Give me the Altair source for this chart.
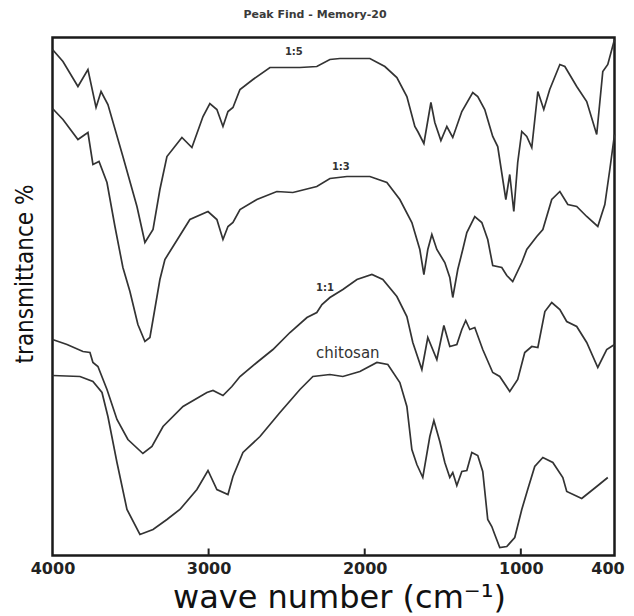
import altair as alt
import pandas as pd

TITLE = "Peak Find - Memory-20"
X_TITLE = "wave number (cm⁻¹)"
Y_TITLE = "transmittance %"
X_TICKS = [4000, 3000, 2000, 1000, 400]
INNER_TICKS = [3000, 2000, 1000]

SERIES = ["1:5", "1:3", "1:1", "chitosan"]

wn_15 = [4000, 3933, 3837, 3773, 3721, 3689, 3645, 3549, 3459, 3408,
         3356, 3312, 3267, 3171, 3107, 3036, 2992, 2947, 2908, 2876,
         2844, 2799, 2716, 2607, 2415, 2307, 2223, 2159, 1967, 1871,
         1794, 1730, 1679, 1660, 1621, 1576, 1551, 1512, 1474, 1436,
         1378, 1308, 1276, 1231, 1199, 1180, 1148, 1096, 1071, 1045,
         1020, 994, 962, 930, 891, 853, 815, 750, 718, 642,
         578, 514, 475, 443, 400]
tr_15 = [506, 494, 469, 486, 448, 464, 451, 399, 349, 313,
         326, 366, 399, 418, 408, 439, 452, 446, 429, 444,
         448, 466, 476, 488, 488, 489, 496, 497, 497, 489,
         478, 459, 429, 424, 412, 453, 433, 415, 429, 418,
         444, 463, 459, 446, 429, 419, 409, 356, 381, 344,
         393, 424, 419, 408, 464, 446, 466, 491, 489, 469,
         454, 421, 484, 491, 516]

wn_13 = [4000, 3933, 3837, 3773, 3741, 3702, 3651, 3600, 3549, 3504,
         3453, 3408, 3376, 3356, 3312, 3280, 3228, 3120, 3004, 2947,
         2908, 2876, 2844, 2799, 2691, 2563, 2460, 2307, 2223, 2114,
         1967, 1858, 1775, 1698, 1647, 1621, 1596, 1570, 1538, 1487,
         1455, 1436, 1404, 1372, 1346, 1295, 1250, 1212, 1180, 1122,
         1090, 1052, 994, 962, 898, 859, 802, 750, 699, 642,
         578, 507, 462, 430, 400]
tr_13 = [447, 436, 416, 423, 391, 394, 373, 329, 288, 264,
         231, 214, 218, 236, 276, 296, 309, 336, 344, 336,
         316, 329, 333, 346, 356, 364, 363, 369, 377, 379,
         379, 373, 356, 333, 306, 281, 306, 321, 306, 293,
         278, 258, 286, 306, 323, 339, 333, 316, 290, 288,
         280, 274, 293, 306, 319, 326, 356, 364, 351, 349,
         339, 329, 351, 386, 421]

wn_11 = [4000, 3907, 3805, 3760, 3741, 3709, 3651, 3587, 3517, 3421,
         3363, 3292, 3164, 3011, 2972, 2908, 2851, 2799, 2691, 2588,
         2479, 2370, 2307, 2274, 2223, 2140, 2050, 1954, 1884, 1794,
         1730, 1692, 1634, 1596, 1538, 1493, 1455, 1410, 1378, 1353,
         1327, 1295, 1244, 1180, 1135, 1071, 1020, 975, 930, 891,
         846, 802, 750, 706, 642, 578, 507, 450, 400]
tr_11 = [216, 211, 204, 203, 193, 189, 166, 136, 116, 102,
         109, 129, 149, 163, 165, 160, 169, 179, 193, 206,
         223, 238, 243, 251, 258, 266, 276, 281, 276, 259,
         239, 213, 186, 218, 196, 230, 209, 211, 226, 235,
         226, 228, 206, 183, 179, 164, 176, 203, 209, 208,
         244, 253, 246, 234, 229, 213, 188, 206, 211]

wn_ch = [4000, 3824, 3741, 3683, 3645, 3587, 3523, 3440, 3356, 3267,
         3184, 3075, 3004, 2947, 2876, 2844, 2780, 2671, 2543, 2415,
         2332, 2223, 2140, 2031, 1922, 1852, 1775, 1730, 1698, 1666,
         1628, 1583, 1557, 1519, 1487, 1455, 1436, 1410, 1378, 1346,
         1314, 1276, 1244, 1212, 1186, 1167, 1135, 1090, 1039, 994,
         956, 911, 859, 795, 731, 706, 610, 578, 514, 443]
tr_ch = [180, 179, 174, 163, 139, 93, 46, 21, 26, 36,
         46, 66, 85, 66, 61, 79, 103, 119, 143, 166,
         179, 181, 179, 184, 193, 191, 173, 149, 106, 91,
         78, 119, 135, 114, 93, 78, 83, 70, 84, 85,
         103, 100, 84, 36, 29, 21, 8, 9, 18, 46,
         66, 89, 98, 93, 78, 64, 57, 61, 69, 78]

LABEL_TEXT = ["1:5", "1:3", "1:1"]
LABEL_WN = [2454, 2153, 2255]
LABEL_TR = [504, 389, 268]
CHITOSAN_WN = [2108]
CHITOSAN_TR = [203]

rows = []
for name, wn, tr in zip(SERIES, [wn_15, wn_13, wn_11, wn_ch], [tr_15, tr_13, tr_11, tr_ch]):
    for a, b in zip(wn, tr):
        rows.append({"series": name, "wn": a, "tr": b})
df = pd.DataFrame(rows)
tick_df = pd.DataFrame({"wn": INNER_TICKS})
lab_df = pd.DataFrame({"text": LABEL_TEXT, "wn": LABEL_WN, "tr": LABEL_TR})
chi_df = pd.DataFrame({"text": ["chitosan"], "wn": CHITOSAN_WN, "tr": CHITOSAN_TR})

W, H = 562, 518
xs = alt.Scale(domain=[400, 4000], reverse=True, nice=False, zero=False)
ys = alt.Scale(domain=[0, 518], nice=False, zero=False)

lines = alt.Chart(df).mark_line(color="#333333", strokeWidth=1.7).encode(
    x=alt.X("wn:Q", scale=xs, axis=alt.Axis(
        values=X_TICKS, format="d", title=X_TITLE, grid=False, domain=False,
        ticks=False, labelFlush=False, labelPadding=5, labelFont="DejaVu Sans",
        labelOffset=alt.expr("datum.value == 400 ? -7 : 0"),
        labelFontSize=16, labelFontWeight="bold", labelColor="#222222",
        titleFont="DejaVu Sans", titleFontSize=32, titleFontWeight="normal",
        titleColor="#111111", titleX=286.5, titleY=52, titleAlign="center",
        titleBaseline="alphabetic")),
    y=alt.Y("tr:Q", scale=ys, axis=alt.Axis(
        labels=False, ticks=False, domain=False, grid=False, title=Y_TITLE,
        titleFont="Liberation Sans Narrow, DejaVu Sans Condensed, sans-serif",
        titleFontSize=24, titleFontWeight="normal", titleColor="#111111",
        titleAngle=270, titleX=-20, titleY=236, titleAlign="center",
        titleBaseline="alphabetic")),
    detail="series:N",
)

ticks = alt.Chart(tick_df).mark_rule(color="#222222", strokeWidth=2).encode(
    x=alt.X("wn:Q", scale=xs), y=alt.value(H), y2=alt.value(H - 7))

labels = alt.Chart(lab_df).mark_text(
    font="DejaVu Sans", fontSize=10, fontWeight="bold", color="#333333",
    align="center", baseline="middle").encode(
    x=alt.X("wn:Q", scale=xs), y=alt.Y("tr:Q", scale=ys), text="text:N")

chi = alt.Chart(chi_df).mark_text(
    font="DejaVu Sans", fontSize=15, color="#333333",
    align="center", baseline="middle").encode(
    x=alt.X("wn:Q", scale=xs), y=alt.Y("tr:Q", scale=ys), text="text:N")

chart = alt.layer(lines, ticks, labels, chi).properties(
    width=W, height=H,
    background="white",
    title=alt.TitleParams(TITLE, font="DejaVu Sans", fontSize=11, fontWeight="bold",
                          color="#3a3a3a", anchor="middle", frame="group",
                          dx=-18.5, offset=16),
    autosize=alt.AutoSizeParams(type="none"),
    padding={"left": 44.5, "top": 29.5, "right": 11.5, "bottom": 60.5},
).configure_view(stroke="#1a1a1a", strokeWidth=2.5)

chart.save("out.html", embed_options={"renderer": "svg", "actions": False})
